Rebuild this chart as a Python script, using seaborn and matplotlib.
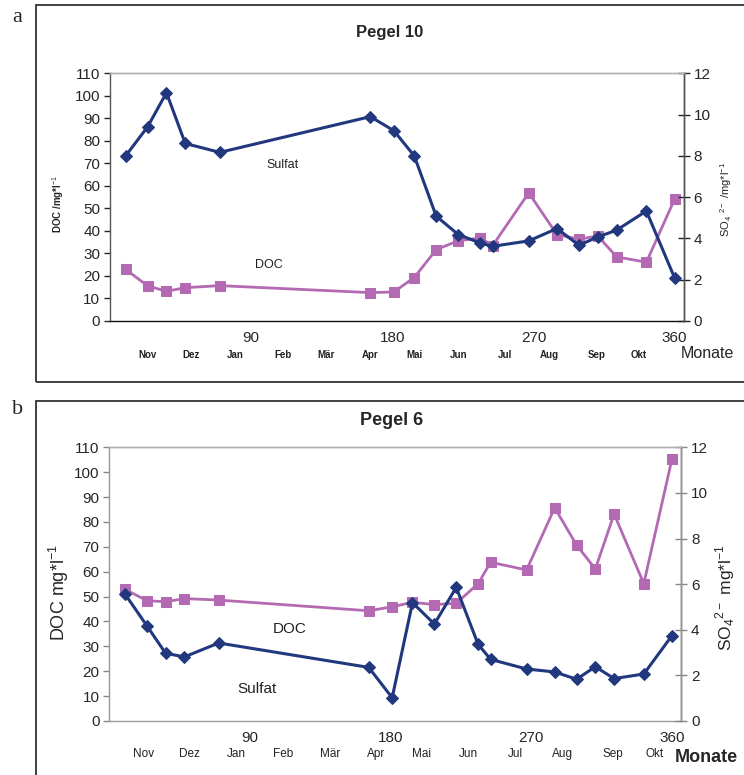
import numpy as np
import pandas as pd
import seaborn as sns
import matplotlib.pyplot as plt
from matplotlib.patches import Rectangle

sns.set_style("white")
plt.rcParams['font.family'] = ['Liberation Sans', 'DejaVu Sans']
plt.rcParams['mathtext.fontset'] = 'custom'
plt.rcParams['mathtext.rm'] = 'Liberation Sans'
plt.rcParams['mathtext.bf'] = 'Liberation Sans:bold'

# sampling days (Tage seit Anfang Oktober)
days = [10, 24, 36, 48, 70, 166, 181, 194, 208, 222, 236, 244, 267, 285, 299, 311, 323, 342, 360]

# Pegel 10
doc_p10 = [22.9, 15.6, 13.2, 14.8, 15.7, 12.6, 12.9, 19.3, 31.7, 35.6, 36.9, 33.5, 56.9, 38.4, 36.3, 37.8, 28.5, 26.1, 54.1]
sulf_p10 = [8.0, 9.41, 11.06, 8.6, 8.17, 9.9, 9.22, 8.0, 5.08, 4.19, 3.78, 3.62, 3.88, 4.48, 3.67, 4.07, 4.4, 5.33, 2.09]

# Pegel 6
doc_p6 = [52.9, 48.4, 47.9, 49.2, 48.6, 44.3, 45.9, 47.7, 46.8, 47.3, 55.2, 63.8, 60.7, 85.7, 70.7, 61.1, 83.2, 55.2, 105.2]
sulf_p6 = [5.57, 4.18, 2.97, 2.81, 3.42, 2.35, 1.02, 5.19, 4.25, 5.86, 3.36, 2.7, 2.28, 2.15, 1.83, 2.38, 1.86, 2.06, 3.74]

months = ["Nov", "Dez", "Jan", "Feb", "Mär", "Apr", "Mai", "Jun", "Jul", "Aug", "Sep", "Okt"]
month_pos_p10 = [24, 52, 80, 110, 138, 166, 194, 222, 252, 280, 310, 337]
month_pos_p6 = [22, 51, 81, 111, 141, 171, 200, 230, 260, 290, 322, 349]

blue = "#21387f"
purple = "#b36ab3"

W, H = 744, 775
fig = plt.figure(figsize=(W / 100, H / 100), dpi=100)


def px(x0, y0, x1, y1):
    # pixel box -> figure fraction [left, bottom, width, height]
    return [x0 / W, 1 - y1 / H, (x1 - x0) / W, (y1 - y0) / H]


# panel frames
fig.patches.append(Rectangle((36 / W, 1 - 382 / H), 1, (382 - 5) / H, transform=fig.transFigure,
                             fill=False, edgecolor="#333333", linewidth=1.3))
fig.patches.append(Rectangle((36 / W, -0.1), 1, 0.1 + (775 - 400.5) / H, transform=fig.transFigure,
                             fill=False, edgecolor="#333333", linewidth=1.3))
fig.text(12 / W, 1 - 17 / H, "a", fontsize=16, family="Liberation Serif", va="center", ha="left")
fig.text(12 / W, 1 - 410 / H, "b", fontsize=16, family="Liberation Serif", va="center", ha="left")


def panel(box, doc, sulf, month_pos, top, ann):
    ax = fig.add_axes(box)
    df = pd.DataFrame({"Tag": days, "DOC": doc, "Sulfat": sulf})
    sns.lineplot(data=df, x="Tag", y="DOC", ax=ax, color=purple, marker="s", markersize=7.5,
                 markeredgecolor=purple, linewidth=2)
    ax2 = ax.twinx()
    sns.lineplot(data=df, x="Tag", y="Sulfat", ax=ax2, color=blue, marker="D", markersize=6,
                 markeredgecolor=blue, linewidth=2.2)
    ax.set_xlim(0, 366)
    ax.set_ylim(0, 110)
    ax2.set_ylim(0, 12)
    ax.set_yticks(range(0, 111, 10))
    ax2.set_yticks(range(0, 13, 2))
    ax.set_xticks(range(0, 361, 15))
    ax.set_xticklabels([str(t) if t in (90, 180, 270, 360) else "" for t in range(0, 361, 15)])
    ax.tick_params(axis="x", direction="out", length=4, width=1, pad=3, labelsize=11)
    ax.tick_params(axis="y", direction="out", length=4, width=1, pad=3, labelsize=11)
    ax2.tick_params(axis="y", direction="inout", length=8, width=1, pad=3, labelsize=11)
    ax.set_xlabel("")
    ax2.set_xlabel("")
    for a in (ax, ax2):
        for s in a.spines.values():
            s.set_linewidth(1)
        a.spines["top"].set_color("#b0b0b0")
    ax2.spines["bottom"].set_visible(False)
    ax2.spines["left"].set_visible(False)
    if top:
        ax.spines["bottom"].set_color("#111111")
        ax.spines["left"].set_color("#555555")
        ax2.spines["right"].set_color("#555555")
        ax.set_ylabel(r"DOC /mg*$\mathbf{l}^{-1}$", fontsize=7, fontweight="bold")
        ax2.set_ylabel(r"SO$_4$ $^{2-}$ /mg*l$^{-1}$", fontsize=8)
        ax.yaxis.set_label_coords(-0.091, 0.47)
        ax2.yaxis.set_label_coords(1.073, 0.49)
        mfont = dict(fontsize=7, fontweight="bold", color="#222222")
        my = -0.137
        ann_size = 9
    else:
        for k in ("bottom", "left"):
            ax.spines[k].set_color("#999999")
        ax2.spines["right"].set_color("#999999")
        ax.tick_params(color="#888888")
        ax2.tick_params(color="#888888")
        ax.set_ylabel(r"DOC mg*l$^{-1}$", fontsize=13)
        ax2.set_ylabel(r"SO$_4$$^{2-}$ mg*l$^{-1}$", fontsize=12.5)
        ax.yaxis.set_label_coords(-0.0875, 0.468)
        ax2.yaxis.set_label_coords(1.076, 0.45)
        mfont = dict(fontsize=8.5, color="#222222")
        my = -0.12
        ann_size = 11
    ax.yaxis.label.set_va("center")
    ax2.yaxis.label.set_va("center")
    trans = ax.get_xaxis_transform()
    for m, p in zip(months, month_pos):
        ax.text(p, my, m, transform=trans, ha="center", va="center", **mfont)
    for txt, x, y in ann:
        ax.text(x, y, txt, fontsize=ann_size, ha="center", va="center", color="#222222")
    return ax


ax1 = panel(px(110, 73.3, 684, 321), doc_p10, sulf_p10, month_pos_p10, True,
            [("Sulfat", 110, 69.2), ("DOC", 101, 24.8)])
ax3 = panel(px(109.3, 447.3, 681.3, 721), doc_p6, sulf_p6, month_pos_p6, False,
            [("DOC", 115.6, 37), ("Sulfat", 94.5, 12.9)])

fig.text(390 / W, 1 - 33 / H, "Pegel 10", fontsize=12, fontweight="bold", ha="center", va="center")
fig.text(392 / W, 1 - 420 / H, "Pegel 6", fontsize=13, fontweight="bold", ha="center", va="center")
fig.text(707 / W, 1 - 354 / H, "Monate", fontsize=11.5, ha="center", va="center")
fig.text(706 / W, 1 - 758 / H, "Monate", fontsize=13, fontweight="bold", ha="center", va="center")

fig.savefig("out.png", dpi=100)
